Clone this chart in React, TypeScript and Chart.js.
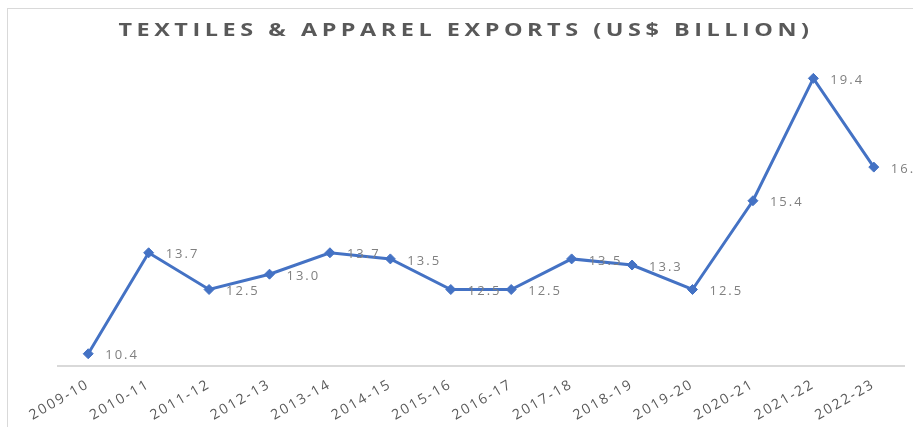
import React, { useEffect, useRef } from "react";
import { Chart, registerables } from "chart.js";

Chart.register(...registerables);

const years = [
  "2009-10", "2010-11", "2011-12", "2012-13", "2013-14", "2014-15", "2015-16",
  "2016-17", "2017-18", "2018-19", "2019-20", "2020-21", "2021-22", "2022-23",
];
const exportsBn = [10.4, 13.7, 12.5, 13.0, 13.7, 13.5, 12.5, 12.5, 13.5, 13.3, 12.5, 15.4, 19.4, 16.5];
const titleText = "TEXTILES & APPAREL EXPORTS (US$ BILLION)";

const W = 905;
const H = 418;

export default function App() {
  const ref = useRef<HTMLCanvasElement | null>(null);

  useEffect(() => {
    if (!ref.current) return;
    const spacing = {
      id: "spacing",
      beforeUpdate(chart: any) {
        chart.ctx.letterSpacing = "2px";
      },
      beforeDraw(chart: any) {
        chart.ctx.letterSpacing = "2px";
      },
    };
    const valueLabels = {
      id: "valueLabels",
      afterDatasetsDraw(chart: any) {
        const ctx = chart.ctx;
        const meta = chart.getDatasetMeta(0);
        ctx.save();
        ctx.letterSpacing = "2px";
        ctx.font = '13px "Open Sans"';
        ctx.fillStyle = "#808080";
        ctx.textAlign = "left";
        ctx.textBaseline = "middle";
        meta.data.forEach((pt: any, i: number) => {
          ctx.fillText(exportsBn[i].toFixed(1), pt.x + 17, pt.y + 2);
        });
        ctx.restore();
      },
    };
    const titlePlugin = {
      id: "customTitle",
      afterDraw(chart: any) {
        const ctx = chart.ctx;
        ctx.save();
        ctx.letterSpacing = "3.5px";
        ctx.font = 'bold 18px "Open Sans"';
        ctx.fillStyle = "#595959";
        ctx.textAlign = "center";
        ctx.textBaseline = "middle";
        ctx.translate(458, 22);
        ctx.scale(1.3, 1);
        ctx.fillText(titleText, 0, 0);
        ctx.restore();
      },
    };
    const chart = new Chart(ref.current, {
      type: "line",
      data: {
        labels: years,
        datasets: [
          {
            data: exportsBn,
            borderColor: "#4472C4",
            backgroundColor: "#4472C4",
            borderWidth: 3,
            pointStyle: "rectRot",
            pointRadius: 5,
            pointBorderWidth: 1,
            tension: 0,
          },
        ],
      },
      options: {
        animation: false,
        responsive: false,
        devicePixelRatio: 1,
        layout: { padding: { left: 50, right: 9, top: 51, bottom: 0 } },
        plugins: {
          legend: { display: false },
          title: { display: false },
          tooltip: { enabled: false },
        },
        scales: {
          y: { display: false, min: 10, max: 20 },
          x: {
            offset: true,
            grid: { display: false, drawTicks: false },
            border: { display: true, color: "#d9d9d9", width: 2 },
            ticks: {
              color: "#595959",
              font: { family: '"Open Sans"', size: 14 },
              maxRotation: 30,
              minRotation: 30,
              padding: 10,
              autoSkip: false,
            },
            afterFit(scale: any) {
              scale.height = 61;
            },
          },
        },
      },
      plugins: [spacing, valueLabels, titlePlugin],
    });
    return () => chart.destroy();
  }, []);

  return (
    <div
      style={{
        position: "fixed",
        left: 7,
        top: 8,
        width: W + 1,
        height: H + 1,
        borderTop: "1px solid #d9d9d9",
        borderLeft: "1px solid #d9d9d9",
        overflow: "hidden",
        background: "#fff",
      }}
    >
      <canvas ref={ref} width={W} height={H} style={{ display: "block", width: W, height: H }} />
    </div>
  );
}
